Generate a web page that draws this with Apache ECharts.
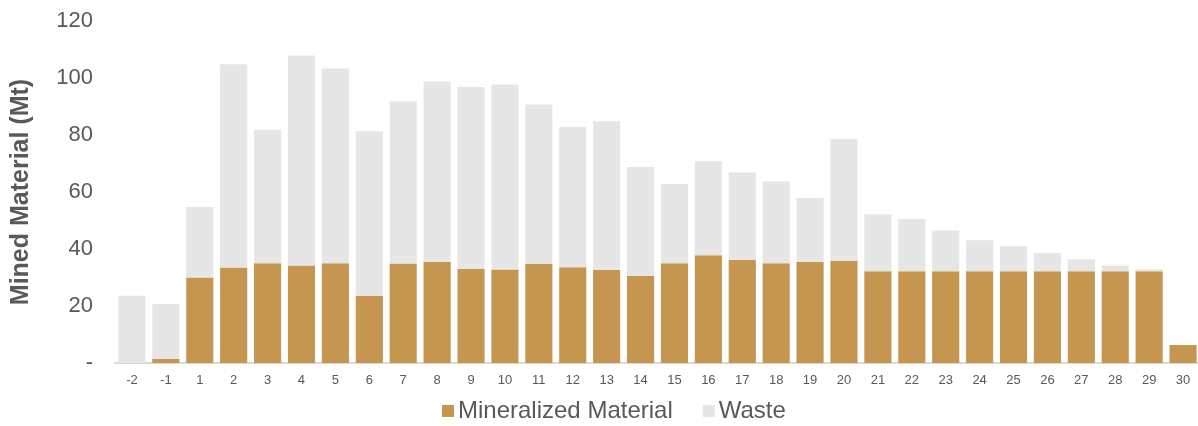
<!DOCTYPE html>
<html>
<head>
<meta charset="utf-8">
<script src="https://cdn.jsdelivr.net/npm/echarts@6/dist/echarts.min.js"></script>
<style>
  html, body { margin: 0; padding: 0; background: #fff; }
  #chart { width: 1198px; height: 426px; }
</style>
</head>
<body>
<div id="chart"></div>
<script>
// years of mine life
var years = ['-2', '-1', '1', '2', '3', '4', '5', '6', '7', '8', '9', '10', '11', '12', '13', '14', '15',
             '16', '17', '18', '19', '20', '21', '22', '23', '24', '25', '26', '27', '28', '29', '30'];
// mineralized material (Mt)
var mineralized = [0, 1.5, 30, 33.5, 35, 34.2, 35, 23.6, 34.9, 35.4, 33, 32.8, 34.7, 33.6, 32.6, 30.5, 35,
                   37.8, 36.1, 35, 35.4, 35.8, 32.2, 32.2, 32.2, 32.2, 32.2, 32.2, 32.2, 32.2, 32.2, 6.3];
// waste (Mt)
var waste = [23.6, 19.2, 24.7, 71.3, 46.8, 73.7, 68.3, 57.7, 56.9, 63.4, 63.8, 64.9, 56, 49.2, 52.2, 38.3, 27.8,
             33, 30.7, 28.7, 22.5, 42.8, 20, 18.3, 14.3, 10.9, 8.8, 6.4, 4.2, 2, 0.7, 0];
var yTicks = [0, 20, 40, 60, 80, 100, 120];

var chart = echarts.init(document.getElementById('chart'));

var option = {
    animation: false,
    grid: { left: 115, right: -2, top: 21, bottom: 63, outerBoundsMode: 'none' },
    legend: {
        bottom: -2,
        left: 437,
        itemWidth: 12,
        itemHeight: 12,
        itemGap: 30,
        icon: 'rect',
        textStyle: { fontSize: 24, color: '#595959', fontFamily: 'Liberation Sans, Arial', padding: [0, 0, 0, -1] },
        data: ['Mineralized Material', 'Waste']
    },
    xAxis: {
        type: 'category',
        data: years,
        axisLine: { lineStyle: { color: '#d9d9d9', width: 2 } },
        axisTick: { show: false },
        axisLabel: { color: '#595959', fontSize: 13, margin: 11, fontFamily: 'Liberation Sans, Arial' }
    },
    yAxis: {
        type: 'value',
        min: 0,
        max: 120,
        interval: 20,
        name: 'Mined Material (Mt)',
        nameLocation: 'middle',
        nameGap: 81,
        nameTextStyle: { fontSize: 25, fontWeight: 'bold', color: '#595959', fontFamily: 'Liberation Sans, Arial' },
        axisLine: { show: false },
        axisTick: { show: false },
        splitLine: { show: false },
        axisLabel: {
            color: '#595959',
            fontSize: 22,
            margin: 22,
            fontFamily: 'Liberation Sans, Arial',
            formatter: function (v) { return yTicks.indexOf(v) === 0 ? '-' : String(v); }
        }
    },
    series: [
        {
            name: 'Mineralized Material',
            type: 'bar',
            stack: 'total',
            barCategoryGap: '20%',
            itemStyle: { color: '#C4964F' },
            data: mineralized
        },
        {
            name: 'Waste',
            type: 'bar',
            stack: 'total',
            barCategoryGap: '20%',
            itemStyle: { color: '#E6E6E6' },
            data: waste
        }
    ]
};

chart.setOption(option);
</script>
</body>
</html>
